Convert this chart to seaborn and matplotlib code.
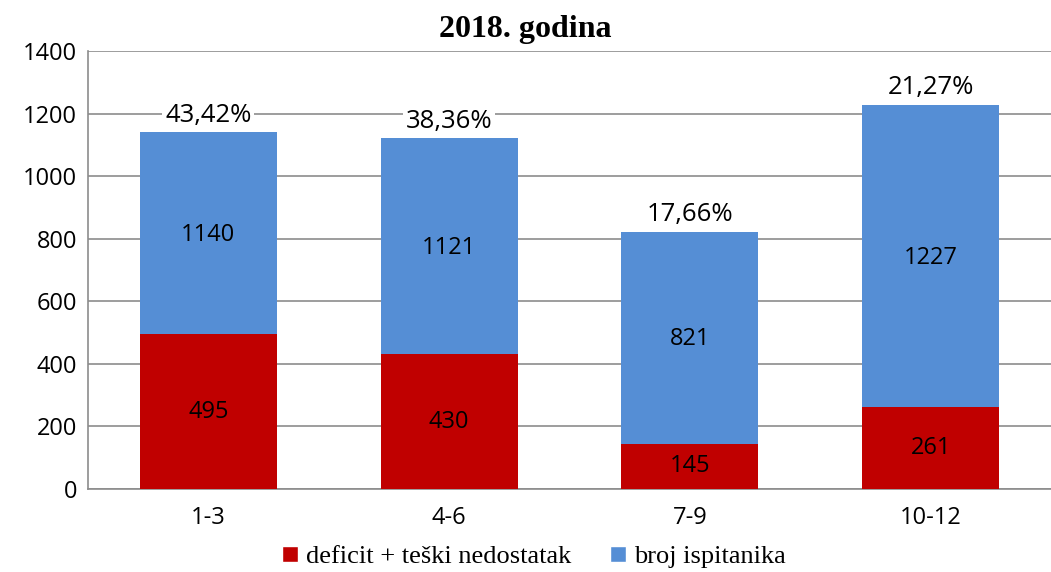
import matplotlib
matplotlib.use("Agg")
import matplotlib.pyplot as plt
import seaborn as sns
import pandas as pd
from matplotlib.patches import Patch

categories = ["1-3", "4-6", "7-9", "10-12"]
broj_ispitanika = [1140, 1121, 821, 1227]
deficit = [495, 430, 145, 261]
percent_labels = ["43,42%", "38,36%", "17,66%", "21,27%"]
yticks = [0, 200, 400, 600, 800, 1000, 1200, 1400]

sns.set_style("white")
plt.rcParams['font.family'] = ['Open Sans', 'DejaVu Sans']
plt.rcParams['text.color'] = 'black'
plt.rcParams['xtick.color'] = 'black'
plt.rcParams['ytick.color'] = 'black'

df = pd.DataFrame({"kat": categories, "broj": broj_ispitanika, "def": deficit})

fig = plt.figure(figsize=(10.51, 5.72), dpi=100)
ax = fig.add_axes([88/1051, 1 - 489/572, (1051 - 88)/1051, (489 - 51)/572])

blue = "#558ED5"
red = "#C00000"
sns.barplot(data=df, x="kat", y="broj", color=blue, width=0.57, ax=ax, zorder=2,
            saturation=1, linewidth=0)
sns.barplot(data=df, x="kat", y="def", color=red, width=0.57, ax=ax, zorder=3,
            saturation=1, linewidth=0)

ax.set_ylim(0, 1400)
ax.set_xlim(-0.5, 3.5)
ax.set_yticks(yticks)
ax.set_yticklabels([str(v) for v in yticks], fontsize=17, color="black")
ax.tick_params(axis='x', labelsize=17, length=0, pad=12, labelcolor="black")
ax.tick_params(axis='y', length=0, pad=8, labelcolor="black")
ax.set_xlabel("")
ax.set_ylabel("")
ax.yaxis.grid(True, color="#8c8c8c", linewidth=1.2, zorder=0)
ax.set_axisbelow(True)
for s in ["top", "right"]:
    ax.spines[s].set_visible(False)
for s in ["left", "bottom"]:
    ax.spines[s].set_color("#8c8c8c")
    ax.spines[s].set_linewidth(1.2)

for i in range(len(categories)):
    b = broj_ispitanika[i]
    d = deficit[i]
    ax.text(i, d + (b - d) / 2 - 5, str(b), ha="center", va="center", fontsize=17,
            color="black", zorder=5)
    ax.text(i, d / 2, str(d), ha="center", va="center", fontsize=17, color="black", zorder=5)
    ax.text(i, b + 55, percent_labels[i], ha="center", va="center", fontsize=18.5,
            color="black", zorder=5, bbox=dict(facecolor="white", edgecolor="none", pad=2))

fig.text(0.5, 1 - 30/572, "2018. godina", ha="center", va="center", fontsize=23,
         fontweight="bold", color="black", family=["Liberation Serif", "DejaVu Serif"])

handles = [Patch(facecolor=red, label="deficit + teški nedostatak"),
           Patch(facecolor=blue, label="broj ispitanika")]
leg = fig.legend(handles=handles, loc="center", bbox_to_anchor=(0.508, 1 - 557/572), ncol=2,
                 frameon=False, prop={"family": ["Liberation Serif", "DejaVu Serif"], "size": 19},
                 handlelength=0.6, handleheight=0.6, handletextpad=0.3, columnspacing=1.5)
for t in leg.get_texts():
    t.set_color("black")

fig.savefig("out.png", dpi=100)
